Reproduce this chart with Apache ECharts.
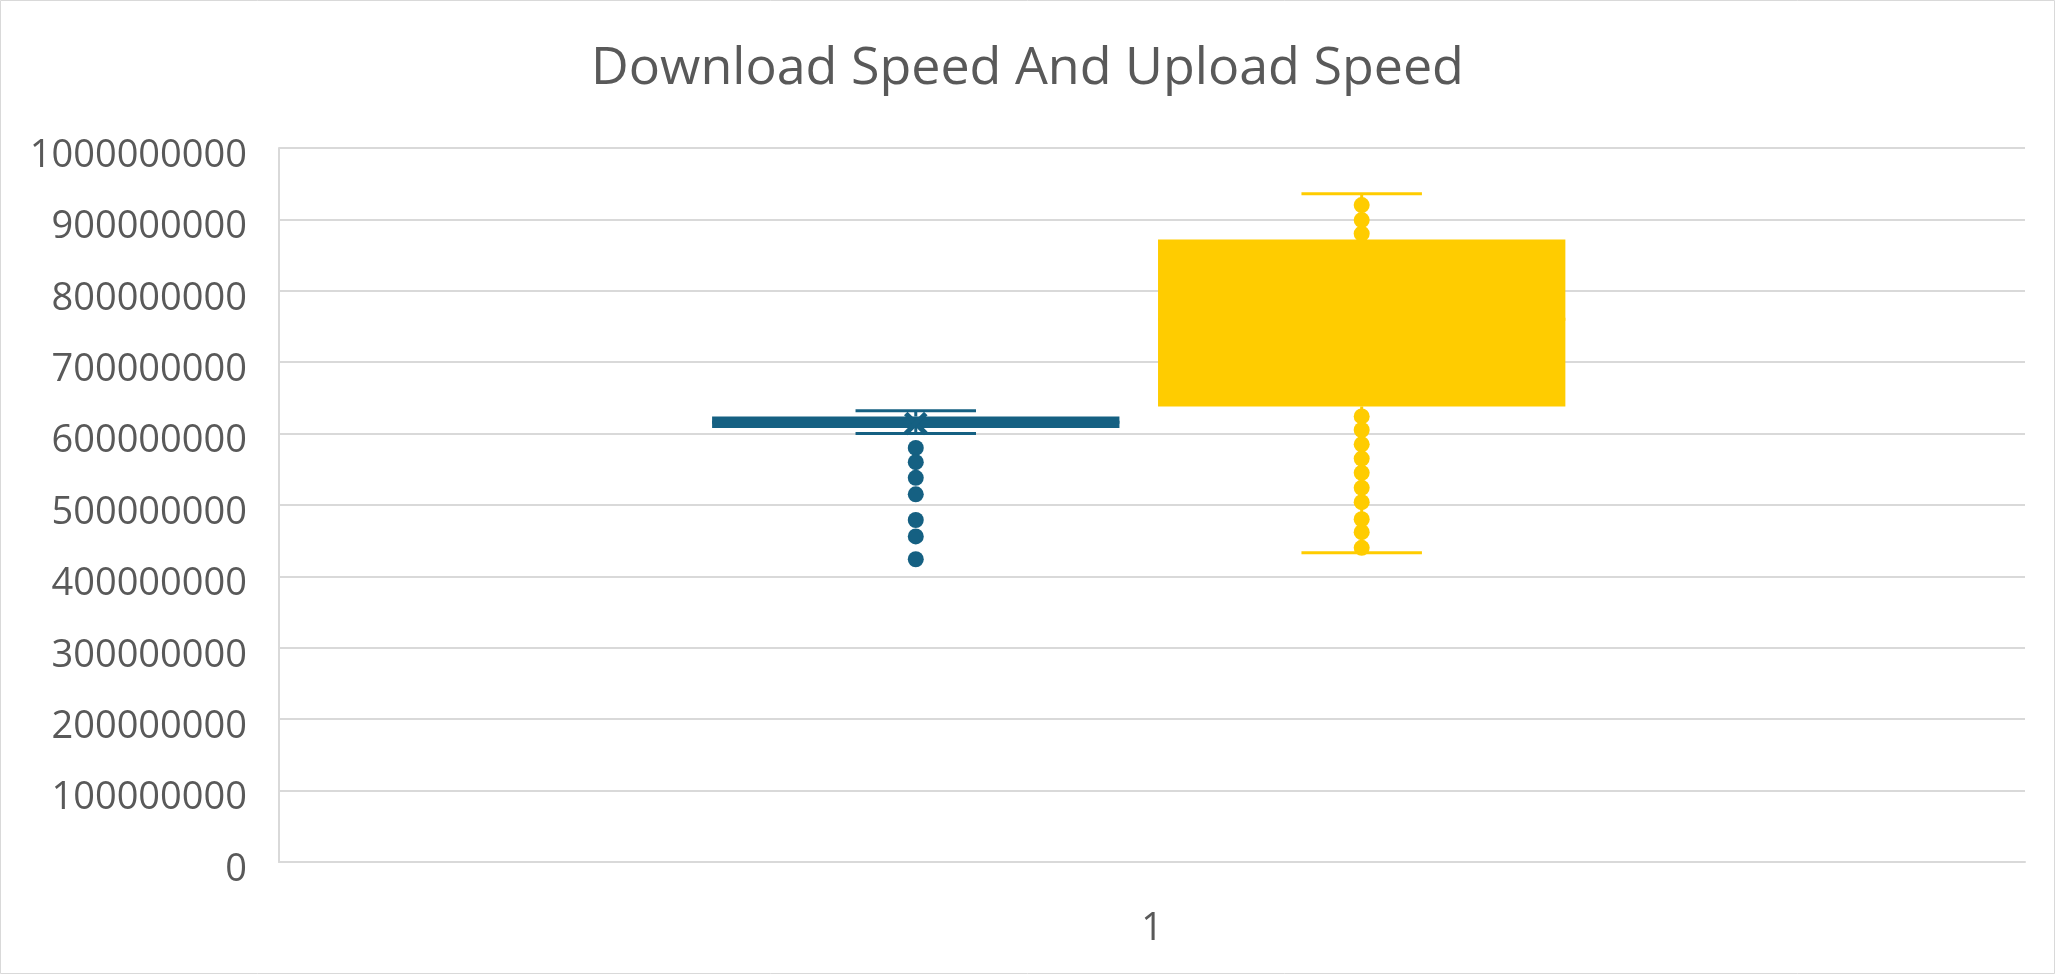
<!DOCTYPE html>
<html><head><meta charset="utf-8">
<script src="https://cdn.jsdelivr.net/npm/echarts@6/dist/echarts.min.js"></script>
<style>html,body{margin:0;padding:0;background:#fff}#c{width:2055px;height:974px}</style>
</head><body><div id="c"></div>
<script>
// ---- data ----
const categories = ['1'];
const seriesNames = ['Download Speed', 'Upload Speed'];
// [lower whisker, Q1, median, Q3, upper whisker]
const downloadBox = [600000000, 608000000, 616000000, 624000000, 632000000];
const uploadBox = [433000000, 638000000, 760000000, 872000000, 936000000];
const downloadMean = 614000000;
const downloadPoints = [580000000, 560000000, 538000000, 515000000, 479000000, 456000000, 424000000];
const uploadPoints = [920000000, 899000000, 880000000, 624000000, 605000000, 585000000, 565000000, 545000000, 524000000, 504000000, 480000000, 462000000, 440000000];
const yMin = 0, yMax = 1000000000, yStep = 100000000;

// ---- style / layout ----
const colors = ['#156082', '#FFCC00'];
const centers = [0.3647, 0.6201];   // position of each series inside the category band
const BOX_W = 0.2333, CAP_W = 0.069;
const FONT = '"Open Sans", sans-serif';
const TXT = '#595959';

function centerX(api, pos) {
  const bw = api.size([1, 0])[0];
  const c = api.coord([api.value(0), 0]);
  return { x: c[0] - bw / 2 + pos * bw, bw: bw };
}

function boxRender(i) {
  return function (params, api) {
    const g = centerX(api, centers[i]);
    const cx = g.x, bw = g.bw;
    const y = k => api.coord([api.value(0), api.value(k)])[1];
    const yLo = y(1), yQ1 = y(2), yMed = y(3), yQ3 = y(4), yHi = y(5);
    const boxW = BOX_W * bw, capW = CAP_W * bw;
    const ls = { stroke: colors[i], lineWidth: 3 };
    return {
      type: 'group',
      children: [
        { type: 'line', shape: { x1: cx, y1: yLo, x2: cx, y2: yQ1 }, style: ls },
        { type: 'line', shape: { x1: cx, y1: yQ3, x2: cx, y2: yHi }, style: ls },
        { type: 'line', shape: { x1: cx - capW / 2, y1: yLo, x2: cx + capW / 2, y2: yLo }, style: ls },
        { type: 'line', shape: { x1: cx - capW / 2, y1: yHi, x2: cx + capW / 2, y2: yHi }, style: ls },
        { type: 'rect', shape: { x: cx - boxW / 2, y: yQ3, width: boxW, height: yQ1 - yQ3 }, style: { fill: colors[i] } },
        { type: 'line', shape: { x1: cx - boxW / 2, y1: yMed, x2: cx + boxW / 2, y2: yMed }, style: ls }
      ]
    };
  };
}

function pointRender(i) {
  return function (params, api) {
    const g = centerX(api, centers[i]);
    const yy = api.coord([api.value(0), api.value(1)])[1];
    return { type: 'circle', shape: { cx: g.x, cy: yy, r: 8 }, style: { fill: colors[i] } };
  };
}

function meanRender(i) {
  return function (params, api) {
    const g = centerX(api, centers[i]);
    const yy = api.coord([api.value(0), api.value(1)])[1];
    const s = 10;
    const st = { stroke: colors[i], lineWidth: 5 };
    return {
      type: 'group', children: [
        { type: 'line', shape: { x1: g.x - s, y1: yy - s, x2: g.x + s, y2: yy + s }, style: st },
        { type: 'line', shape: { x1: g.x - s, y1: yy + s, x2: g.x + s, y2: yy - s }, style: st }
      ]
    };
  };
}

const chart = echarts.init(document.getElementById('c'), null, { renderer: 'canvas' });
chart.setOption({
  animation: false,
  backgroundColor: '#fff',
  title: {
    text: 'Download Speed And Upload Speed',
    left: 'center', top: 38,
    textStyle: { fontFamily: FONT, fontSize: 52, fontWeight: 'normal', color: TXT }
  },
  graphic: [{
    type: 'rect', shape: { x: 0.5, y: 0.5, width: 2054, height: 973 },
    style: { fill: 'none', stroke: '#d9d9d9', lineWidth: 1 }, z: 100
  }],
  grid: { left: 279, right: 30, top: 148, bottom: 112 },
  xAxis: {
    type: 'category', data: categories,
    axisLine: { show: true, lineStyle: { color: '#d9d9d9', width: 2 } },
    axisTick: { show: false },
    axisLabel: { fontFamily: FONT, fontSize: 38, color: TXT, margin: 48 },
    splitLine: { show: false }
  },
  yAxis: {
    type: 'value', min: yMin, max: yMax, interval: yStep,
    axisLine: { show: true, lineStyle: { color: '#d9d9d9', width: 2 } },
    axisTick: { show: false },
    axisLabel: { fontFamily: FONT, fontSize: 38, color: TXT, margin: 32, verticalAlign: 'top', lineHeight: 16, formatter: v => String(v) },
    splitLine: { show: true, lineStyle: { color: '#d9d9d9', width: 2 } }
  },
  series: [
    { name: seriesNames[0], type: 'custom', renderItem: boxRender(0), data: [[0].concat(downloadBox)], z: 2 },
    { name: seriesNames[1], type: 'custom', renderItem: boxRender(1), data: [[0].concat(uploadBox)], z: 2 },
    { name: seriesNames[0] + ' points', type: 'custom', renderItem: pointRender(0), data: downloadPoints.map(v => [0, v]), z: 3 },
    { name: seriesNames[1] + ' points', type: 'custom', renderItem: pointRender(1), data: uploadPoints.map(v => [0, v]), z: 3 },
    { name: seriesNames[0] + ' mean', type: 'custom', renderItem: meanRender(0), data: [[0, downloadMean]], z: 4 }
  ]
});
</script></body></html>
